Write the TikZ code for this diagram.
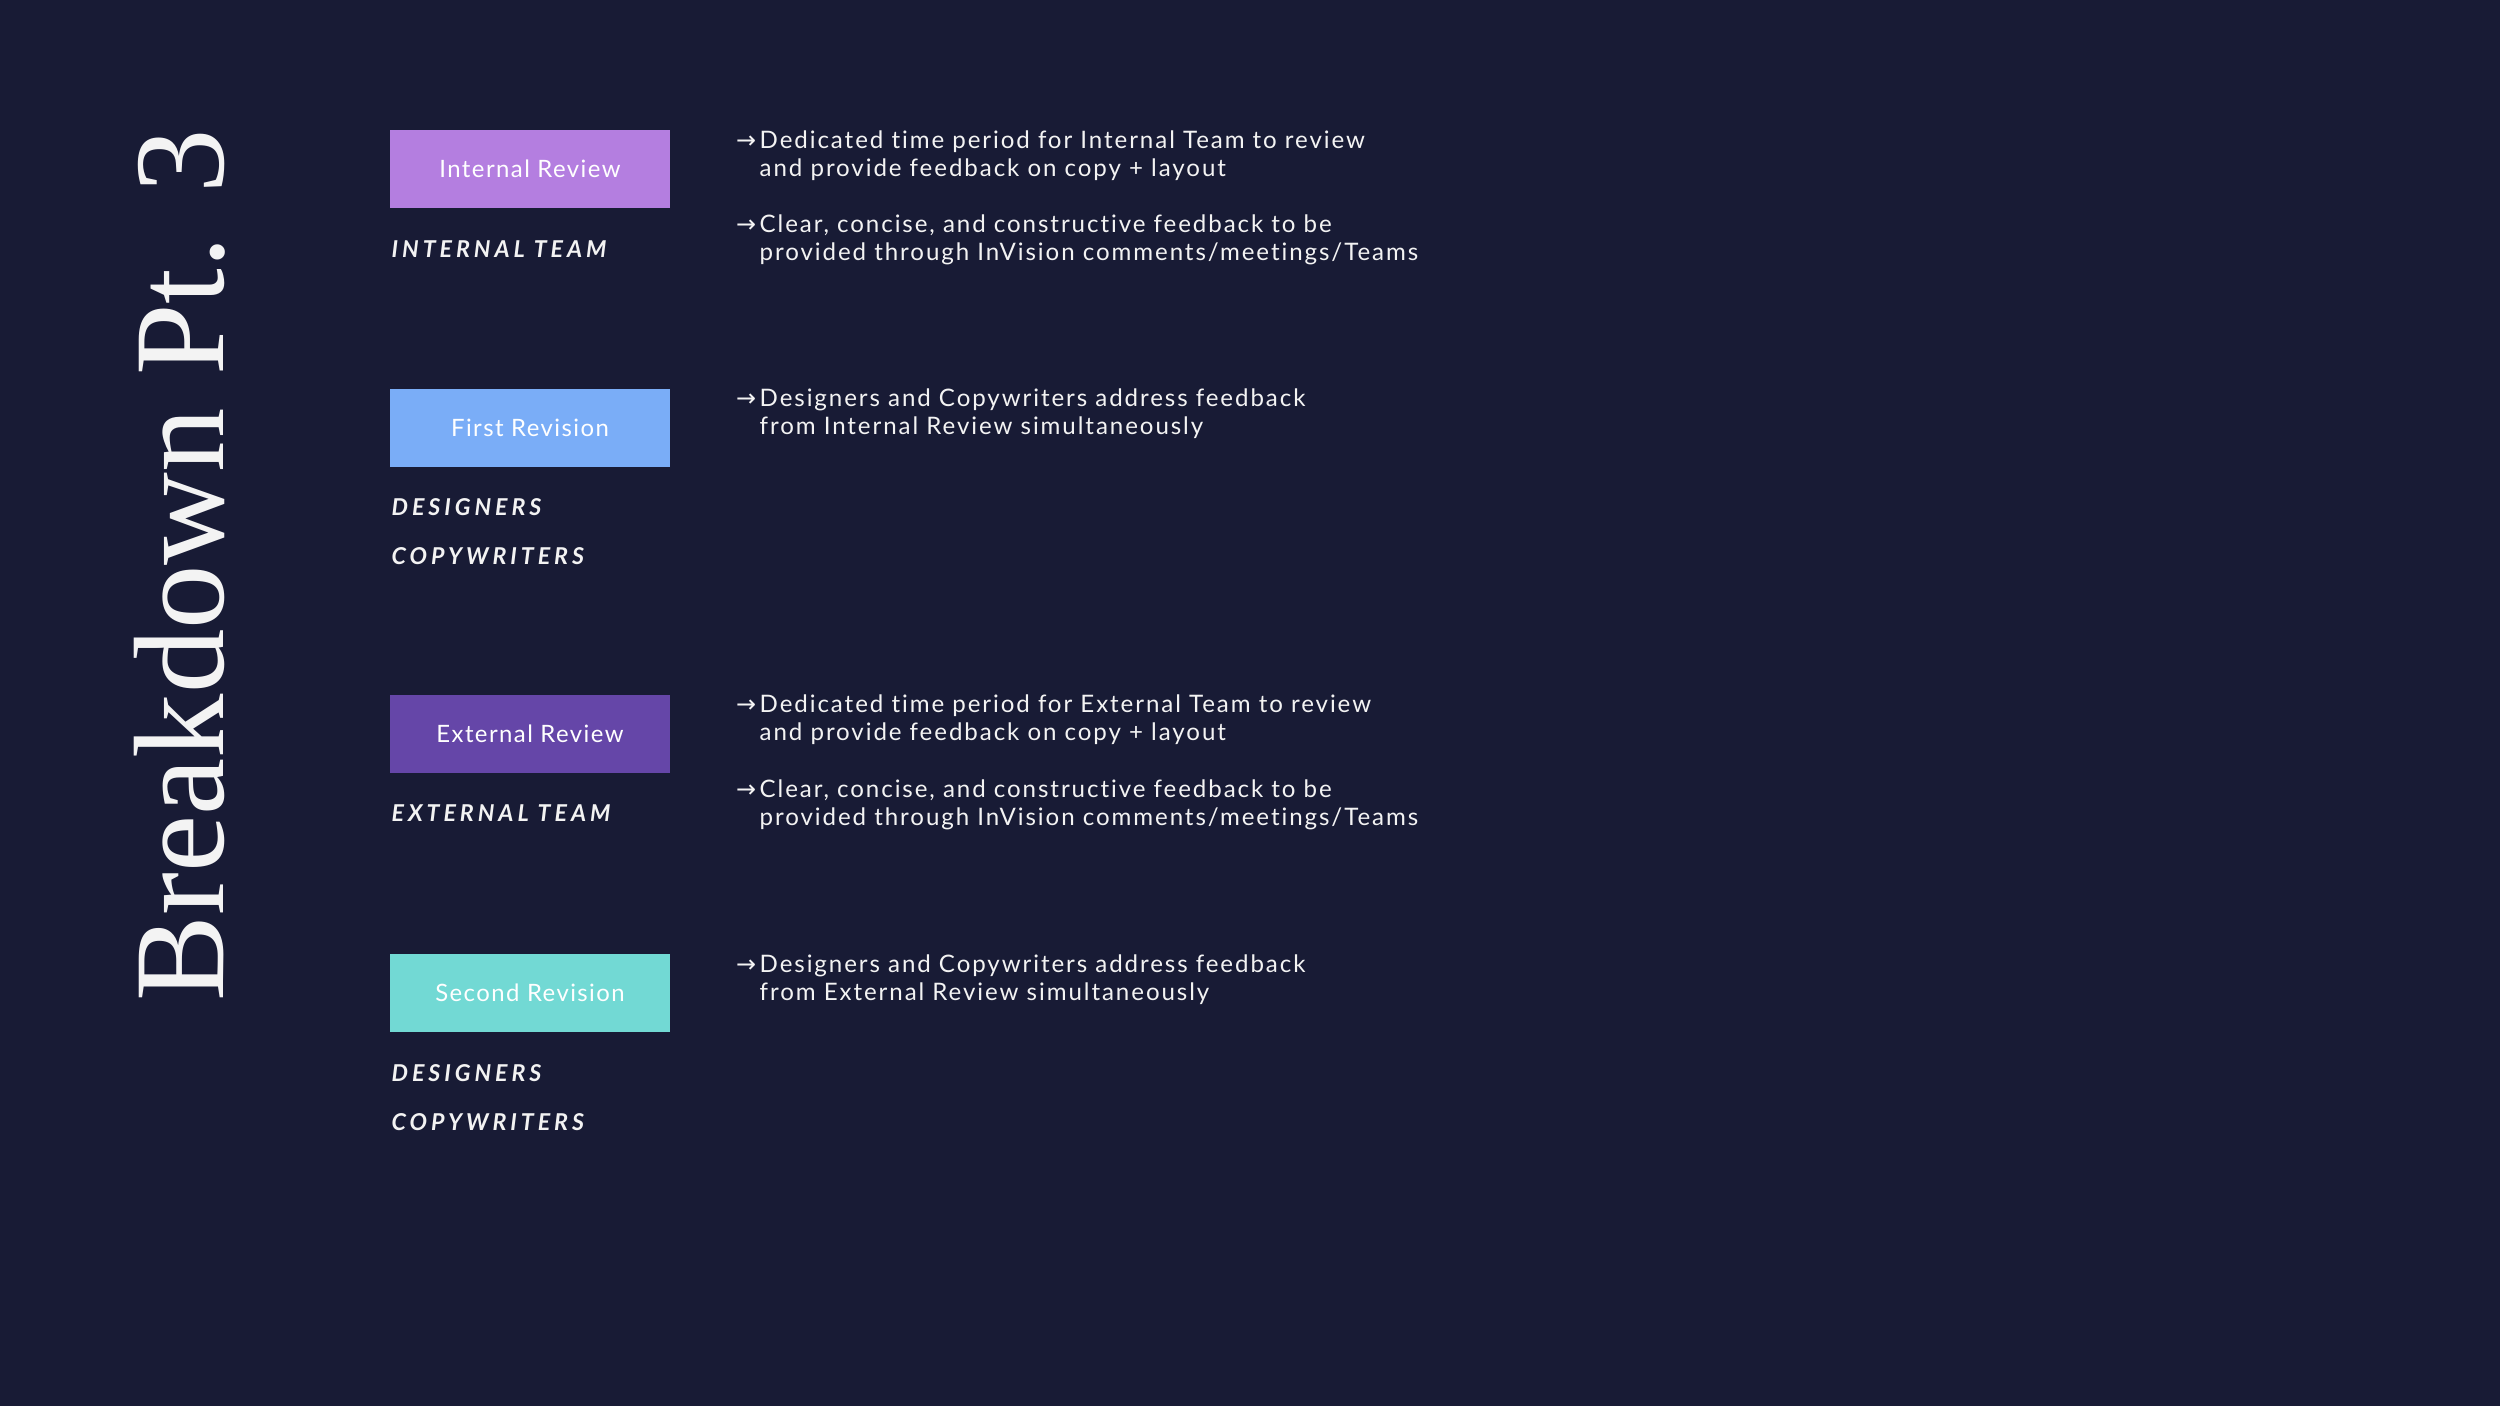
\documentclass[tikz,border=0pt]{standalone}
\usepackage{fontspec}
\setmainfont{Lato}[LetterSpace=6,Ligatures={NoCommon}]
\newfontfamily\notefont{Lato}[LetterSpace=8,Ligatures={NoCommon}]
\newfontfamily\titlefont{Liberation Serif}
\newfontfamily\teamfont{Lato}[LetterSpace=17]
\newfontfamily\arrowfont{DejaVu Sans}

\definecolor{bgnavy}{HTML}{181B35}
\definecolor{paper}{HTML}{F3F3F3}
\definecolor{irevcol}{HTML}{B47EE0}
\definecolor{frevcol}{HTML}{7AADF7}
\definecolor{erevcol}{HTML}{6546A8}
\definecolor{srevcol}{HTML}{72D9D4}

\newcommand{\arr}{\llap{\arrowfont\fontsize{6.8}{8}\selectfont →\hspace{1pt}}}

\tikzset{
  stagebox/.style={minimum width=2.8cm,minimum height=0.77cm,inner sep=0pt,
    text=white,font=\fontsize{6.8}{8}\selectfont},
  team/.style={anchor=west,inner sep=0pt,text=paper,
    font=\teamfont\bfseries\itshape\fontsize{6.6}{8}\selectfont},
  note/.style={anchor=north west,inner sep=0pt,align=left,text=paper,
    font=\notefont\fontsize{6.85}{8.1}\selectfont}
}

\begin{document}
\begin{tikzpicture}[x=0.01cm,y=-0.01cm]

        \path[fill=bgnavy] (0,0) rectangle (2500,1406);

        \node[rotate=90,inner sep=0pt,text=paper,font=\titlefont\fontsize{36.6}{40}\selectfont] (title) at (180,565) {Breakdown Pt. 3};

        \begin{scope}[every node/.style={stagebox}]
          \node[fill=irevcol] (irev) at (530,169) {Internal Review};
          \node[fill=frevcol] (frev) at (530,428) {First Revision};
          \node[fill=erevcol] (erev) at (530,734) {External Review};
          \node[fill=srevcol] (srev) at (530,993) {Second Revision};
        \end{scope}

        \begin{scope}[every node/.style={team}]
          \node (irevteam)  at (391,249)  {INTERNAL TEAM};
          \node (frevdes)   at (391,507)  {DESIGNERS};
          \node (frevcopy)  at (391,556)  {COPYWRITERS};
          \node (erevteam)  at (391,813)  {EXTERNAL TEAM};
          \node (srevdes)   at (391,1073) {DESIGNERS};
          \node (srevcopy)  at (391,1122) {COPYWRITERS};
        \end{scope}

        \begin{scope}[every node/.style={note}]
          \node (irevnote1) at (759,130) {\arr Dedicated time period for Internal Team to review\\and provide feedback on copy + layout};
          \node (irevnote2) at (759,214) {\arr Clear, concise, and constructive feedback to be\\provided through InVision comments/meetings/Teams};
          \node (frevnote)  at (759,388) {\arr Designers and Copywriters address feedback\\from Internal Review simultaneously};
          \node (erevnote1) at (759,694) {\arr Dedicated time period for External Team to review\\and provide feedback on copy + layout};
          \node (erevnote2) at (759,779) {\arr Clear, concise, and constructive feedback to be\\provided through InVision comments/meetings/Teams};
          \node (srevnote)  at (759,954) {\arr Designers and Copywriters address feedback\\from External Review simultaneously};
        \end{scope}

      \end{tikzpicture}
\end{document}
